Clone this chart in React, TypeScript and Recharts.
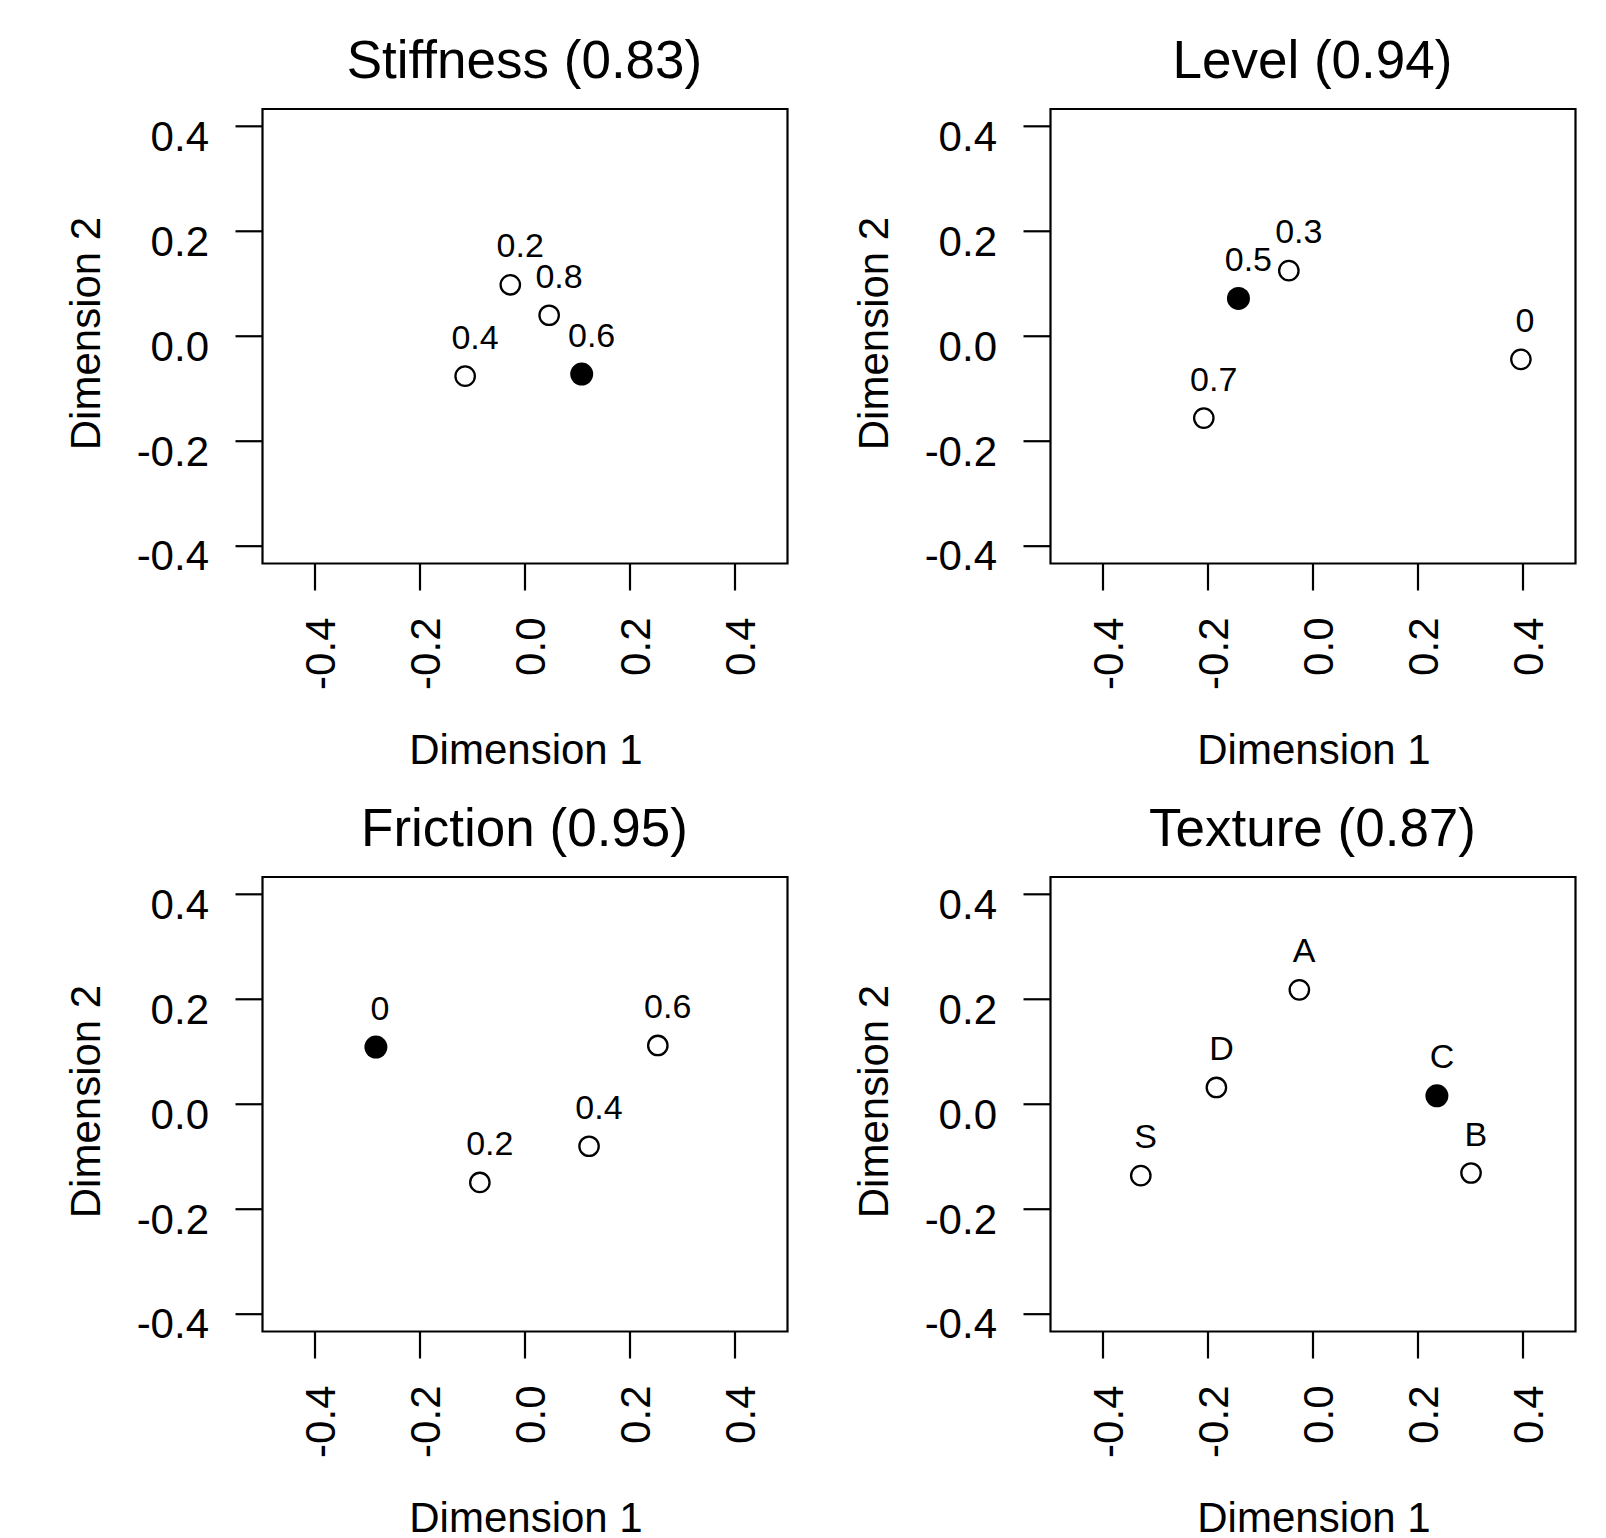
import React from 'react';
import { ScatterChart, Scatter, XAxis, YAxis, ReferenceArea } from 'recharts';

// ---- data ----
const axisTicks = [-0.4, -0.2, 0, 0.2, 0.4];
const xDomain: [number, number] = [-0.5, 0.5];
const yDomain: [number, number] = [-0.433, 0.433];

const stiffnessLabels = ['0.2', '0.8', '0.4', '0.6'];
const stiffnessDim1 = [-0.028, 0.046, -0.114, 0.108];
const stiffnessDim2 = [0.098, 0.040, -0.076, -0.072];
const stiffnessSelected = '0.6';

const levelLabels = ['0.3', '0.5', '0.7', '0'];
const levelDim1 = [-0.046, -0.142, -0.208, 0.396];
const levelDim2 = [0.125, 0.072, -0.156, -0.044];
const levelSelected = '0.5';

const frictionLabels = ['0', '0.2', '0.4', '0.6'];
const frictionDim1 = [-0.284, -0.086, 0.122, 0.253];
const frictionDim2 = [0.109, -0.149, -0.080, 0.112];
const frictionSelected = '0';

const textureLabels = ['A', 'D', 'S', 'C', 'B'];
const textureDim1 = [-0.026, -0.184, -0.328, 0.236, 0.301];
const textureDim2 = [0.218, 0.032, -0.136, 0.016, -0.131];
const textureSelected = 'C';

const FONT = "'Liberation Sans', Arial, Helvetica, sans-serif";

const charW: Record<string, number> = {
  '0': 0.556, '1': 0.556, '2': 0.556, '3': 0.556, '4': 0.556, '5': 0.556,
  '6': 0.556, '7': 0.556, '8': 0.556, '9': 0.556, '.': 0.278,
  A: 0.667, B: 0.667, C: 0.722, D: 0.722, S: 0.667,
};
const textWidth = (s: string, size: number) =>
  s.split('').reduce((a, c) => a + (charW[c] ?? 0.6), 0) * size;

const LABEL_SIZE = 34;

const makeShape = (filled: boolean) => (props: any) => {
  const { cx, cy, payload } = props;
  if (cx == null || cy == null) return <g />;
  const w = textWidth(payload.label, LABEL_SIZE);
  return (
    <g>
      {filled ? (
        <circle cx={cx} cy={cy} r={11.5} fill="#000" />
      ) : (
        <circle cx={cx} cy={cy} r={9.7} fill="none" stroke="#000" strokeWidth={2.3} />
      )}
      <text
        x={cx + 0.21 * w}
        y={cy - 27.5}
        textAnchor="middle"
        fontSize={LABEL_SIZE}
        fontFamily={FONT}
        fill="#000"
      >
        {payload.label}
      </text>
    </g>
  );
};
const openShape = makeShape(false);
const filledShape = makeShape(true);

const fmt = (v: number) => v.toFixed(1);

const XTick = (props: any) => {
  const { x, y, payload } = props;
  return (
    <text
      transform={`translate(${x + 20},${y + 27}) rotate(-90)`}
      textAnchor="end"
      fontSize={42}
      fontFamily={FONT}
      fill="#000"
    >
      {fmt(payload.value)}
    </text>
  );
};

const YTick = (props: any) => {
  const { x, y, payload } = props;
  return (
    <text x={x - 26.5} y={y + 24.3} textAnchor="end" fontSize={42} fontFamily={FONT} fill="#000">
      {fmt(payload.value)}
    </text>
  );
};

type PanelProps = {
  left: number;
  top: number;
  title: string;
  labels: string[];
  dim1: number[];
  dim2: number[];
  selected: string;
};

function Panel({ left, top, title, labels, dim1, dim2, selected }: PanelProps) {
  const data = labels.map((label, i) => ({ label, x: dim1[i], y: dim2[i] }));
  const open = data.filter((d) => d.label !== selected);
  const filled = data.filter((d) => d.label === selected);
  return (
    <div style={{ position: 'absolute', left, top, width: 803, height: 769 }}>
      <ScatterChart
        width={803}
        height={769}
        margin={{ top: 109, right: 15.5, bottom: 145.5, left: 162.5 }}
      >
        <XAxis
          type="number"
          dataKey="x"
          domain={xDomain}
          ticks={axisTicks}
          allowDataOverflow
          axisLine={false}
          tickSize={27}
          tickMargin={0}
          tickLine={{ stroke: '#000', strokeWidth: 2.2 }}
          tick={XTick}
          height={60}
          interval={0}
        />
        <YAxis
          type="number"
          dataKey="y"
          domain={yDomain}
          ticks={axisTicks}
          allowDataOverflow
          axisLine={false}
          tickSize={27}
          tickMargin={0}
          tickLine={{ stroke: '#000', strokeWidth: 2.2 }}
          tick={YTick}
          width={100}
          interval={0}
        />
        <ReferenceArea
          x1={xDomain[0]}
          x2={xDomain[1]}
          y1={yDomain[0]}
          y2={yDomain[1]}
          fill="none"
          fillOpacity={0}
          stroke="#000"
          strokeWidth={2.2}
          strokeOpacity={1}
        />
        <Scatter data={open} isAnimationActive={false} shape={openShape} />
        <Scatter data={filled} isAnimationActive={false} shape={filledShape} />
      </ScatterChart>
      <svg
        width={803}
        height={780}
        overflow="visible"
        style={{ position: 'absolute', left: 0, top: 0, pointerEvents: 'none', overflow: 'visible' }}
      >
        <text x={524.5} y={77.5} textAnchor="middle" fontSize={53} fontFamily={FONT} fill="#000">
          {title}
        </text>
        <text x={526} y={764} textAnchor="middle" fontSize={42} fontFamily={FONT} fill="#000">
          Dimension 1
        </text>
        <text
          transform="translate(100,333.5) rotate(-90)"
          textAnchor="middle"
          fontSize={42}
          fontFamily={FONT}
          fill="#000"
        >
          Dimension 2
        </text>
      </svg>
    </div>
  );
}

export default function App() {
  return (
    <div
      style={{
        position: 'absolute',
        left: 0,
        top: 0,
        width: 1606,
        height: 1538,
        background: '#fff',
        overflow: 'hidden',
      }}
    >
      <Panel left={0} top={0} title="Stiffness (0.83)" labels={stiffnessLabels} dim1={stiffnessDim1} dim2={stiffnessDim2} selected={stiffnessSelected} />
      <Panel left={787.5} top={0} title="Level (0.94)" labels={levelLabels} dim1={levelDim1} dim2={levelDim2} selected={levelSelected} />
      <Panel left={0} top={768} title="Friction (0.95)" labels={frictionLabels} dim1={frictionDim1} dim2={frictionDim2} selected={frictionSelected} />
      <Panel left={787.5} top={768} title="Texture (0.87)" labels={textureLabels} dim1={textureDim1} dim2={textureDim2} selected={textureSelected} />
    </div>
  );
}
